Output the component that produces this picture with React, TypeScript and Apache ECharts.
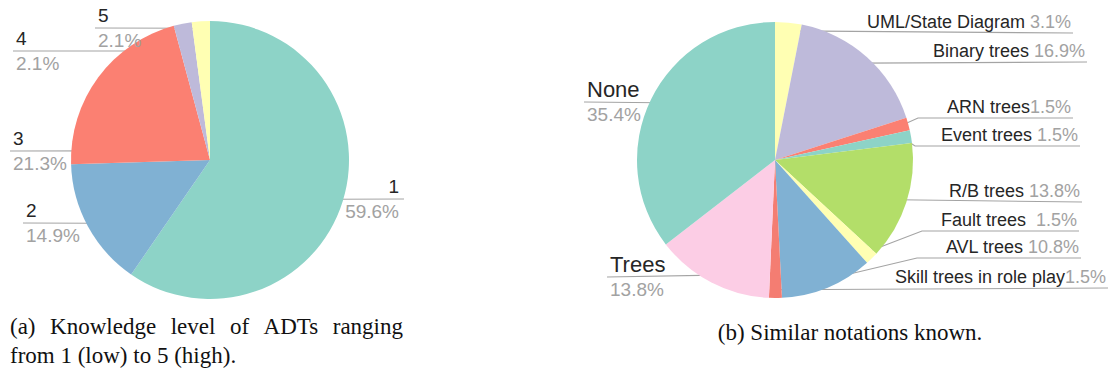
import React, { useEffect, useRef } from 'react';
import * as echarts from 'echarts';

// ---------- data ----------
const levelNames = ['1', '2', '3', '4', '5'];
const levelValues = [59.6, 14.9, 21.3, 2.1, 2.1];
const levelColors = ['#8dd3c7', '#80b1d3', '#fb8072', '#bebada', '#ffffb3'];

const notationNames = [
  'UML/State Diagram',
  'Binary trees',
  'ARN trees',
  'Event trees',
  'R/B trees',
  'Fault trees',
  'AVL trees',
  'Skill trees in role play',
  'Trees',
  'None',
];
const notationValues = [3.1, 16.9, 1.5, 1.5, 13.8, 1.5, 10.8, 1.5, 13.8, 35.4];
const notationSeparators = [' ', ' ', '', ' ', ' ', '  ', ' ', '', '', ''];
const notationColors = [
  '#ffffb3', '#bebada', '#fb8072', '#8dd3c7', '#b3de69',
  '#ffffb3', '#80b1d3', '#f47d72', '#fccde5', '#8dd3c7',
];

const captionAWords = ['(a)', 'Knowledge', 'level', 'of', 'ADTs', 'ranging'];
const captionALine2 = 'from 1 (low) to 5 (high).';
const captionB = '(b) Similar notations known.';

// ---------- label layout (positions only) ----------
type Spot = { side: 'l' | 'r'; lineY: number; lineEnd: number; knee: number | null; rf: number; da: number; stacked: boolean };

const levelSpots: Spot[] = [
  { side: 'r', lineY: 199, lineEnd: 404, knee: null, rf: 0.95, da: 0, stacked: true },
  { side: 'l', lineY: 223, lineEnd: 23, knee: null, rf: 0.95, da: 0, stacked: true },
  { side: 'l', lineY: 151, lineEnd: 10, knee: null, rf: 0.76, da: 31.6, stacked: true },
  { side: 'l', lineY: 51, lineEnd: 13, knee: null, rf: 0.8, da: 0, stacked: true },
  { side: 'l', lineY: 28, lineEnd: 95, knee: null, rf: 0.95, da: 0, stacked: true },
];

const notationSpots: Spot[] = [
  { side: 'r', lineY: 33, lineEnd: 1073, knee: null, rf: 0.94, da: 0, stacked: false },
  { side: 'r', lineY: 62, lineEnd: 1087, knee: null, rf: 0.94, da: 0, stacked: false },
  { side: 'r', lineY: 118, lineEnd: 1073, knee: 918, rf: 0.94, da: 0, stacked: false },
  { side: 'r', lineY: 146, lineEnd: 1080, knee: 915, rf: 0.94, da: 0, stacked: false },
  { side: 'r', lineY: 202, lineEnd: 1082, knee: null, rf: 0.94, da: 0, stacked: false },
  { side: 'r', lineY: 231, lineEnd: 1079, knee: 922, rf: 0.94, da: 0, stacked: false },
  { side: 'r', lineY: 258, lineEnd: 1081, knee: 917, rf: 0.94, da: 0, stacked: false },
  { side: 'r', lineY: 288, lineEnd: 1108, knee: null, rf: 0.94, da: 0, stacked: false },
  { side: 'l', lineY: 277, lineEnd: 607, knee: null, rf: 0.94, da: 0, stacked: true },
  { side: 'l', lineY: 102, lineEnd: 584, knee: null, rf: 0.94, da: 0, stacked: true },
];

const SANS = '"Liberation Sans", Arial, sans-serif';
const SERIF = '"Liberation Serif", "Times New Roman", serif';
const DARK = '#262626';
const GRAY = '#a2a2a2';

function makePie(
  names: string[], values: number[], colors: string[], seps: string[] | null,
  center: [number, number], radius: number, spots: Spot[], nameSize: number, pctSize: number, singleSize: number,
) {
  const total = values.reduce((a, b) => a + b, 0);
  let cum = 0;
  const mids = values.map((v) => {
    const m = cum + v / 2;
    cum += v;
    return m / total;
  });
  return {
    type: 'pie',
    center,
    radius,
    startAngle: 90,
    clockwise: true,
    avoidLabelOverlap: false,
    silent: true,
    emphasis: { disabled: true },
    itemStyle: { borderWidth: 0 },
    data: names.map((n, i) => ({ name: n, value: values[i], itemStyle: { color: colors[i] } })),
    label: {
      show: true,
      position: 'outside',
      fontFamily: SANS,
      formatter: (p: any) => {
        const i = p.dataIndex;
        const s = spots[i];
        const pct = Number(p.value).toFixed(1) + '%';
        if (s.stacked) {
          const k = s.side === 'l' ? 'L' : 'R';
          return `{n${k}|${p.name}}\n{p${k}|${pct}}`;
        }
        const sep = seps ? seps[i] : ' ';
        return `{s|${p.name}${sep}}{q|${pct}}`;
      },
      rich: {
        nL: { fontFamily: SANS, fontSize: nameSize, color: DARK, lineHeight: 25, align: 'left' },
        pL: { fontFamily: SANS, fontSize: pctSize, color: GRAY, lineHeight: 25, align: 'left' },
        nR: { fontFamily: SANS, fontSize: nameSize, color: DARK, lineHeight: 25, align: 'right' },
        pR: { fontFamily: SANS, fontSize: pctSize, color: GRAY, lineHeight: 25, align: 'right' },
        s: { fontFamily: SANS, fontSize: singleSize, color: DARK, lineHeight: 21 },
        q: { fontFamily: SANS, fontSize: singleSize, color: GRAY, lineHeight: 21 },
      },
    },
    labelLine: { show: true, smooth: false, lineStyle: { color: '#a4a4a4', width: 1.1 } },
    labelLayout: (params: any) => {
      const i = params.dataIndex;
      const s = spots[i];
      const theta = ((90 - mids[i] * 360 + s.da) * Math.PI) / 180;
      const R = radius * s.rf;
      const ax = center[0] + R * Math.cos(theta);
      const ay = center[1] - R * Math.sin(theta);
      const knee = s.knee == null ? [ax, ay] : [s.knee, s.lineY];
      const pts = [[ax, ay], knee, [s.lineEnd, s.lineY]];
      if (s.stacked) {
        return {
          x: s.side === 'l' ? s.lineEnd + 3 : s.lineEnd - 5,
          y: s.lineY,
          align: s.side === 'l' ? 'left' : 'right',
          verticalAlign: 'middle',
          labelLinePoints: pts,
        };
      }
      return {
        x: s.lineEnd - 2,
        y: s.lineY - 1,
        align: 'right',
        verticalAlign: 'bottom',
        labelLinePoints: pts,
      };
    },
  };
}

function justify(words: string[], left: number, right: number, font: string): number[] {
  const ctx = document.createElement('canvas').getContext('2d');
  let widths = words.map((w) => w.length * 10);
  if (ctx) {
    ctx.font = font;
    widths = words.map((w) => ctx.measureText(w).width);
  }
  const sum = widths.reduce((a, b) => a + b, 0);
  const gap = (right - left - sum) / (words.length - 1);
  const xs: number[] = [];
  let x = left;
  widths.forEach((w) => {
    xs.push(x);
    x += w + gap;
  });
  return xs;
}

export default function App() {
  const ref = useRef<HTMLDivElement>(null);
  useEffect(() => {
    if (!ref.current) return;
    const chart = echarts.init(ref.current, undefined, { renderer: 'svg' });
    const capFont = `23px ${SERIF}`;
    const xs = justify(captionAWords, 10, 403, capFont);
    const capStyle = { fontFamily: SERIF, fontSize: 23, fill: '#111', verticalAlign: 'middle' };
    chart.setOption({
      animation: false,
      backgroundColor: '#ffffff',
      series: [
        makePie(levelNames, levelValues, levelColors, null, [210, 160], 139, levelSpots, 19, 19, 18),
        makePie(notationNames, notationValues, notationColors, notationSeparators, [775, 160], 138, notationSpots, 22, 19, 18),
      ],
      graphic: [
        ...captionAWords.map((w, i) => ({
          type: 'text',
          x: xs[i],
          y: 326,
          style: { ...capStyle, text: w, align: 'left' },
        })),
        { type: 'text', x: 10, y: 355, style: { ...capStyle, text: captionALine2, align: 'left' } },
        { type: 'text', x: 850, y: 332, style: { ...capStyle, text: captionB, align: 'center' } },
      ],
    });
    return () => chart.dispose();
  }, []);
  return (
    <div
      ref={ref}
      style={{ position: 'fixed', left: 0, top: 0, width: '1112px', height: '373px', background: '#fff' }}
    />
  );
}
